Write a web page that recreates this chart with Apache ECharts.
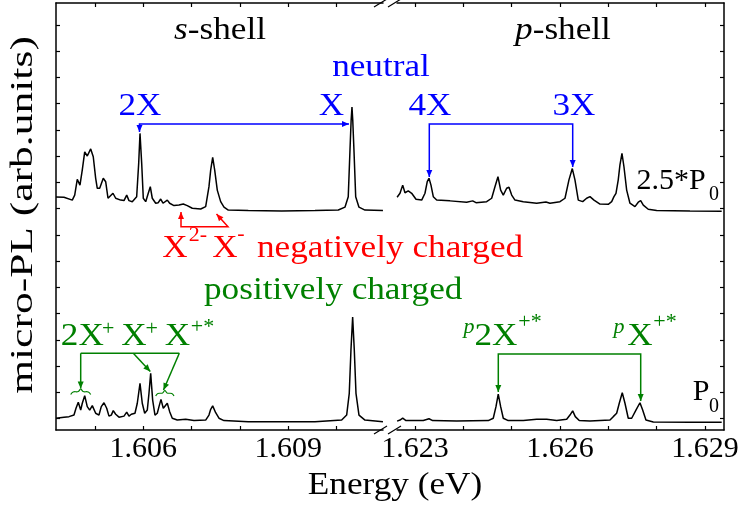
<!DOCTYPE html>
<html>
<head>
<meta charset="utf-8">
<script src="https://cdn.jsdelivr.net/npm/echarts@6/dist/echarts.min.js"></script>
<style>
  html, body { margin: 0; background: #fff; }
  #chart { width: 743px; height: 516px; }
</style>
</head>
<body>
<div id="chart"></div>
<script>
// s-shell spectrum, 2.5*P0 (energy in eV, intensity in arb. units, offset as plotted)
const sHighE = [1.604194, 1.604359, 1.604531, 1.604581, 1.604634, 1.60469, 1.604738, 1.604788, 1.604841, 1.604912,
  1.604965, 1.605015, 1.605048, 1.605098, 1.605172, 1.605222, 1.60527, 1.605311, 1.605373, 1.605429,
  1.605532, 1.605601, 1.605657, 1.605704, 1.605772, 1.605863, 1.605905, 1.605932, 1.605967, 1.606,
  1.60605, 1.606103, 1.606145, 1.606186, 1.606257, 1.60631, 1.60636, 1.606408, 1.606449, 1.606497,
  1.606546, 1.606635, 1.606739, 1.606828, 1.60691, 1.607014, 1.607188, 1.607291, 1.607359, 1.607395,
  1.607436, 1.607477, 1.607531, 1.607601, 1.60767, 1.607759, 1.608172, 1.608863, 1.609552, 1.610035,
  1.610173, 1.610241, 1.610277, 1.610301, 1.610318, 1.610334, 1.610359, 1.610395, 1.610463, 1.610587, 1.610959];
const sHighI = [8.45, 8.44, 8.33, 8.52, 9.12, 8.90, 9.48, 10.17, 10.01, 10.28,
  9.98, 9.16, 8.78, 8.78, 9.16, 9.03, 8.40, 8.36, 8.59, 8.40,
  8.33, 8.31, 8.52, 8.31, 8.27, 8.46, 9.73, 10.87, 9.73, 8.40,
  8.27, 8.59, 8.84, 8.40, 8.21, 8.23, 8.37, 8.21, 8.27, 8.33,
  8.21, 8.12, 8.14, 8.18, 8.12, 8.02, 7.99, 8.08, 8.84, 9.48,
  9.96, 9.48, 8.71, 8.27, 8.06, 7.95, 7.93, 7.91, 7.93, 7.95,
  8.06, 8.46, 10.24, 11.38, 11.87, 11.38, 10.24, 8.46, 8.06, 7.95, 7.93];

// s-shell spectrum, P0
const sLowE = [1.604194, 1.604359, 1.604463, 1.604566, 1.604608, 1.604655, 1.604705, 1.604738, 1.604788, 1.604841,
  1.604891, 1.604945, 1.605015, 1.605083, 1.605131, 1.605187, 1.605243, 1.60529, 1.605338, 1.605379,
  1.605429, 1.605497, 1.605601, 1.605657, 1.605704, 1.605752, 1.605787, 1.605828, 1.605876, 1.605932,
  1.605979, 1.606029, 1.606083, 1.606118, 1.606153, 1.606194, 1.606242, 1.60629, 1.606325, 1.606366,
  1.606414, 1.606449, 1.606497, 1.606546, 1.6066, 1.606703, 1.606877, 1.607049, 1.607291, 1.607359,
  1.607395, 1.607436, 1.607498, 1.607566, 1.60767, 1.608172, 1.609552, 1.610105, 1.610208, 1.610262,
  1.610297, 1.610332, 1.610366, 1.610401, 1.610463, 1.610587, 1.610959];
const sLowI = [0.02, 0.06, 0.08, 0.14, 0.40, 0.63, 0.33, 0.59, 0.88, 0.46,
  0.33, 0.50, 0.21, 0.14, 0.46, 0.61, 0.40, 0.10, 0.14, 0.31,
  0.17, 0.06, 0.10, 0.25, 0.10, 0.17, 0.23, 0.21, 0.59, 1.35,
  0.59, 0.21, 0.33, 0.97, 1.73, 0.71, 0.14, 0.21, 0.46, 0.74,
  0.40, 0.46, 0.59, 0.27, 0.02, -0.05, -0.02, -0.07, -0.05, 0.14,
  0.36, 0.49, 0.23, 0.02, -0.07, -0.11, -0.11, -0.05, 0.14, 0.97,
  2.62, 3.87, 2.62, 0.97, 0.14, -0.05, -0.11];

// p-shell spectrum, 2.5*P0
const pHighE = [1.62263, 1.62269, 1.622746, 1.622793, 1.622861, 1.622932, 1.623021, 1.623139, 1.623207, 1.623254,
  1.62329, 1.623331, 1.623379, 1.623449, 1.623724, 1.62407, 1.624194, 1.624262, 1.624483, 1.624587,
  1.624655, 1.624717, 1.624773, 1.624827, 1.624897, 1.624945, 1.625001, 1.625069, 1.625241, 1.625518,
  1.62571, 1.625793, 1.626, 1.626104, 1.626186, 1.626255, 1.62631, 1.626379, 1.62647, 1.626552,
  1.626621, 1.626704, 1.626828, 1.626999, 1.62707, 1.627117, 1.627159, 1.627206, 1.627241, 1.627283,
  1.627324, 1.62738, 1.627448, 1.627552, 1.62762, 1.62767, 1.627724, 1.627827, 1.628001, 1.62869, 1.629346];
const pHighI = [8.44, 8.59, 8.90, 8.61, 8.68, 8.59, 8.36, 8.33, 8.59, 9.03,
  9.16, 8.90, 8.46, 8.33, 8.30, 8.25, 8.30, 8.23, 8.27, 8.40,
  8.84, 9.22, 8.71, 8.52, 8.78, 8.82, 8.52, 8.33, 8.27, 8.21,
  8.26, 8.21, 8.27, 8.40, 9.10, 9.53, 9.10, 8.33, 8.27, 8.40,
  8.46, 8.33, 8.18, 8.17, 8.27, 8.46, 8.59, 9.10, 9.67, 10.11,
  9.60, 8.71, 8.21, 8.08, 8.25, 8.31, 8.14, 7.98, 7.93, 7.91, 7.90];

// p-shell spectrum, P0
const pLowE = [1.62263, 1.62269, 1.622746, 1.622814, 1.623172, 1.62329, 1.623366, 1.623863, 1.624517, 1.62462,
  1.624676, 1.624723, 1.624773, 1.624827, 1.62493, 1.625241, 1.625518, 1.625725, 1.625932, 1.626139,
  1.626207, 1.626263, 1.626317, 1.626399, 1.626621, 1.627035, 1.627103, 1.627173, 1.627227, 1.627289,
  1.627345, 1.627413, 1.627484, 1.627572, 1.627655, 1.627711, 1.627779, 1.627931, 1.62869, 1.629346];
const pLowI = [-0.09, -0.05, 0.02, -0.07, -0.07, 0.00, -0.07, -0.09, -0.07, 0.02,
  0.46, 0.94, 0.46, 0.02, -0.07, -0.07, -0.02, -0.02, -0.07, -0.02,
  0.14, 0.30, 0.08, -0.07, -0.09, -0.05, 0.08, 0.21, 0.59, 0.99,
  0.59, 0.02, 0.02, 0.33, 0.61, 0.33, -0.05, -0.12, -0.13, -0.13];

// axes
const sRange = [1.604194, 1.61096];
const pRange = [1.622628, 1.629394];
const sTicks = [1.605, 1.606, 1.607, 1.608, 1.609, 1.610];
const sLabels = [1.606, 1.609];
const pTicks = [1.623, 1.624, 1.625, 1.626, 1.627, 1.628, 1.629];
const pLabels = [1.623, 1.626, 1.629];
const yRange = [-0.4286, 15.838];
const yTicks = [0, 1, 2, 3, 4, 5, 6, 7, 8, 9, 10, 11, 12, 13, 14, 15];

const FONT = "'Liberation Serif', 'Times New Roman', serif";
const BLUE = '#0000ff', RED = '#ff0000', GREEN = '#008000';

const zip = (xs, ys) => xs.map((x, i) => [x, ys[i]]);

function xAx(grid, range, ticks, labels, pos) {
  return {
    type: 'value', gridIndex: grid, position: pos, min: range[0], max: range[1],
    axisLine: { show: true, onZero: false, lineStyle: { color: '#000', width: 1.5 } },
    axisTick: { show: true, inside: true, length: 4, customValues: ticks, lineStyle: { color: '#000', width: 1.2 } },
    axisLabel: pos === 'bottom'
      ? { show: true, customValues: labels, formatter: v => v.toFixed(3), fontFamily: FONT, fontSize: 30, color: '#000', margin: 4 }
      : { show: false },
    splitLine: { show: false }
  };
}
function yAx(grid, pos) {
  return {
    type: 'value', gridIndex: grid, position: pos, min: yRange[0], max: yRange[1],
    axisLine: { show: true, onZero: false, lineStyle: { color: '#000', width: 1.5 } },
    axisTick: { show: true, inside: true, length: 4, customValues: yTicks, lineStyle: { color: '#000', width: 1.2 } },
    axisLabel: { show: false },
    splitLine: { show: false }
  };
}
function trace(xi, yi, xs, ys) {
  return {
    type: 'line', xAxisIndex: xi, yAxisIndex: yi, data: zip(xs, ys),
    showSymbol: false, symbol: 'none', lineStyle: { color: '#000', width: 1.5 }, z: 3
  };
}

// ---- annotations (pixel positions) ----
const g = [];
function txt(t, x, y, o) {
  o = o || {};
  const size = o.size || 32;
  g.push({
    type: 'text', x: x, y: y, scaleX: o.sx || 1.1, rotation: o.rot || 0, z: 10, silent: true,
    style: {
      text: t, fill: o.color || '#000',
      font: (o.italic ? 'italic ' : '') + size + 'px ' + FONT,
      textAlign: o.align || 'center', textVerticalAlign: 'middle',
      rich: { i: { fontStyle: 'italic', fontSize: o.isize || size, fontFamily: FONT, fill: o.color || '#000' } }
    }
  });
}
function head(tip, from, color) {
  const dx = tip[0] - from[0], dy = tip[1] - from[1];
  const len = Math.hypot(dx, dy), ux = dx / len, uy = dy / len;
  const L = 7, W = 3;
  const bx = tip[0] - ux * L, by = tip[1] - uy * L;
  g.push({ type: 'polygon', z: 10, silent: true,
    shape: { points: [tip, [bx - uy * W, by + ux * W], [bx + uy * W, by - ux * W]] },
    style: { fill: color } });
}
function arrow(points, color, atStart, atEnd) {
  g.push({ type: 'polyline', z: 10, silent: true, shape: { points: points },
    style: { stroke: color, lineWidth: 1.5, fill: null } });
  if (atStart) head(points[0], points[1], color);
  if (atEnd) head(points[points.length - 1], points[points.length - 2], color);
}
function brace(x0, x1, y, color) {
  const m = (x0 + x1) / 2, w = x1 - x0;
  g.push({ type: 'polyline', z: 10, silent: true,
    shape: { smooth: 0.4, points: [[x0, y + 3], [x0 + w * 0.12, y + 0.5], [m - w * 0.12, y], [m, y - 2.5],
      [m + w * 0.12, y], [x1 - w * 0.12, y + 0.5], [x1, y + 3]] },
    style: { stroke: color, lineWidth: 1.2, fill: null } });
}

// titles
txt('{i|s}-shell', 220, 31);
txt('{i|p}-shell', 563, 31);
// neutral
txt('neutral', 381, 68, { color: BLUE });
txt('2X', 140, 107, { color: BLUE });
txt('X', 331.5, 107, { color: BLUE });
txt('4X', 430, 107, { color: BLUE });
txt('3X', 574, 107, { color: BLUE });
arrow([[139.5, 132], [139.5, 124], [349, 124]], BLUE, true, true);
arrow([[429.3, 177], [429.3, 124], [572.7, 124], [572.7, 167]], BLUE, true, true);
// negatively charged
txt('X', 175, 249, { color: RED });
txt('2-', 198, 236, { color: RED, size: 20 });
txt('X', 225, 249, { color: RED });
txt('-', 241, 235, { color: RED, size: 20 });
txt('negatively charged', 257, 249, { color: RED, align: 'left' });
arrow([[181, 212], [181, 226.7], [228, 226.7], [216.5, 214]], RED, true, true);
// positively charged
txt('positively charged', 204, 291, { color: GREEN, align: 'left' });
txt('2X', 82.3, 337, { color: GREEN });
txt('+', 108.3, 330, { color: GREEN, size: 20 });
txt('X', 134, 337, { color: GREEN });
txt('+', 151.7, 330, { color: GREEN, size: 20 });
txt('X', 177.5, 337, { color: GREEN });
txt('+*', 202.5, 328, { color: GREEN, size: 20 });
arrow([[80.7, 353.3], [179.3, 353.3]], GREEN, false, false);
arrow([[80.7, 353.3], [80.7, 388.5]], GREEN, false, true);
arrow([[133.3, 353.3], [150.3, 371.5]], GREEN, false, true);
arrow([[179.3, 353.3], [163.5, 390]], GREEN, false, true);
brace(70.7, 90.7, 391.5, GREEN);
brace(155.7, 174, 393, GREEN);
txt('p', 469, 328, { color: GREEN, size: 20, italic: true });
txt('2X', 496, 337, { color: GREEN });
txt('+*', 530, 323, { color: GREEN, size: 20 });
txt('p', 619, 328, { color: GREEN, size: 20, italic: true });
txt('X', 640, 337, { color: GREEN });
txt('+*', 665, 323, { color: GREEN, size: 20 });
arrow([[498.3, 392], [498.3, 354], [640.7, 354], [640.7, 401]], GREEN, true, true);
// excitation power
txt('2.5*P', 671, 181, { size: 30, sx: 1.0 });
txt('0', 714, 195, { size: 20, sx: 1.0 });
txt('P', 701, 392, { size: 30, sx: 1.0 });
txt('0', 714, 407, { size: 20, sx: 1.0 });
// axis titles
txt('Energy (eV)', 395, 486, { size: 32 });
txt('micro-PL (arb.units)', 24, 215, { size: 32, rot: Math.PI / 2, sx: 1.36 });
// axis break marks
[[378, 383], [392, 397]].forEach(p => {
  g.push({ type: 'line', z: 10, silent: true, shape: { x1: p[0] - 4, y1: 7, x2: p[1] + 4, y2: -1 }, style: { stroke: '#000', lineWidth: 1.2 } });
  g.push({ type: 'line', z: 10, silent: true, shape: { x1: p[0] - 4, y1: 434, x2: p[1] + 4, y2: 426 }, style: { stroke: '#000', lineWidth: 1.2 } });
});

const chart = echarts.init(document.getElementById('chart'), null, { renderer: 'canvas' });
chart.setOption({
  animation: false,
  backgroundColor: '#fff',
  grid: [
    { left: 56, top: 3, width: 327, height: 427 },
    { left: 397, top: 3, width: 327, height: 427 }
  ],
  xAxis: [
    xAx(0, sRange, sTicks, sLabels, 'bottom'),
    xAx(0, sRange, sTicks, sLabels, 'top'),
    xAx(1, pRange, pTicks, pLabels, 'bottom'),
    xAx(1, pRange, pTicks, pLabels, 'top')
  ],
  yAxis: [yAx(0, 'left'), yAx(1, 'right')],
  series: [
    trace(0, 0, sHighE, sHighI),
    trace(0, 0, sLowE, sLowI),
    trace(2, 1, pHighE, pHighI),
    trace(2, 1, pLowE, pLowI)
  ],
  graphic: g
});
</script>
</body>
</html>
